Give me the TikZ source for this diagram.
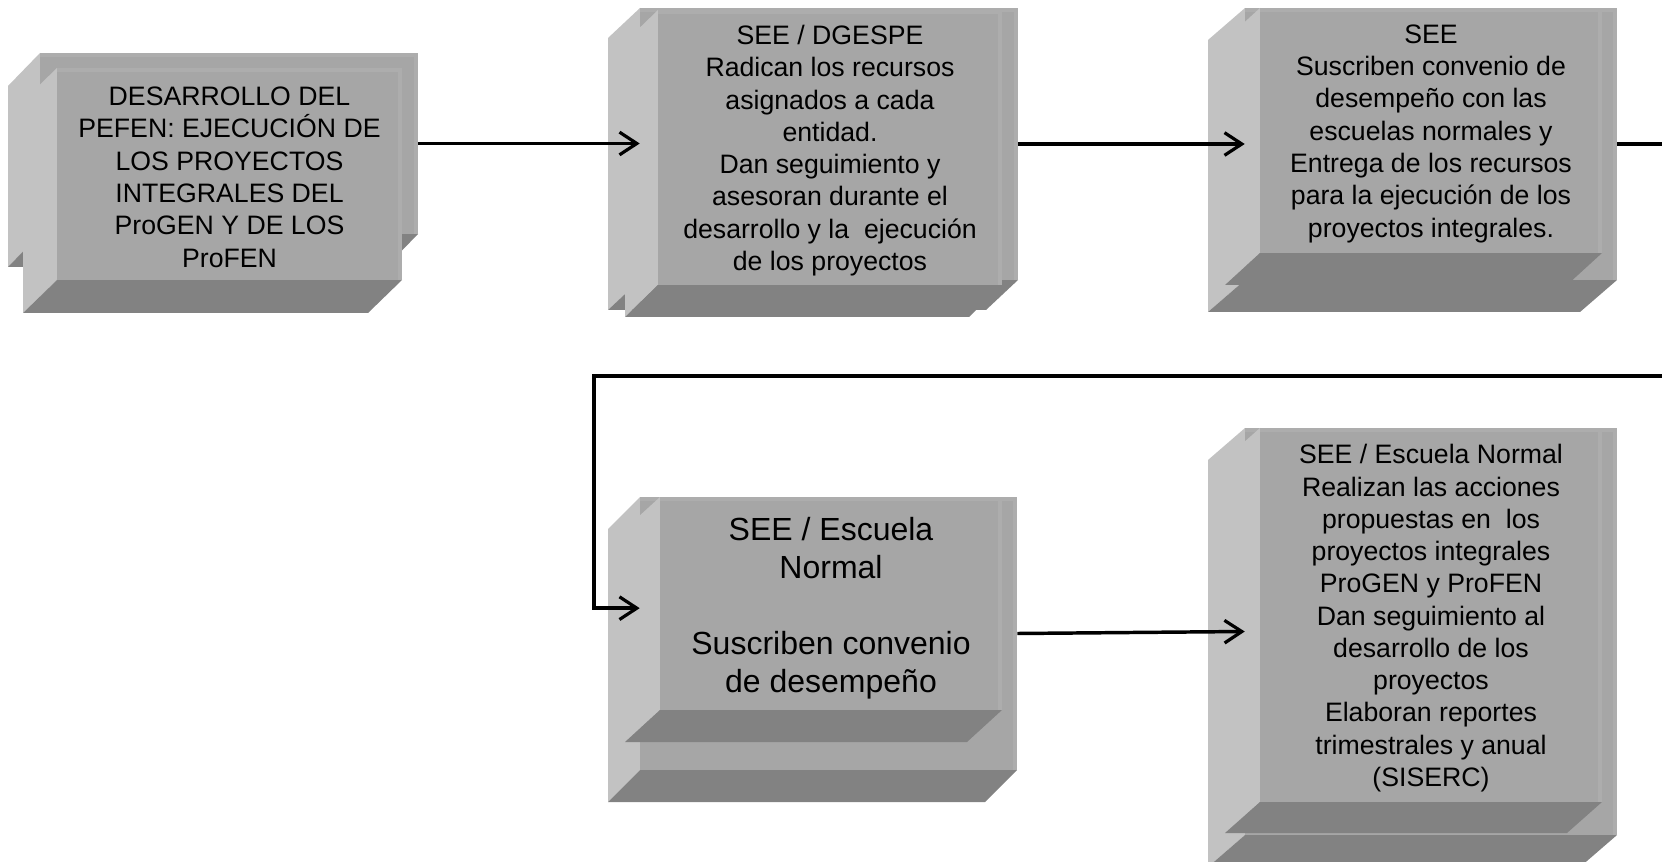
\documentclass[tikz,border=0pt]{standalone}
\usepackage{fontspec}
\setmainfont{Liberation Sans}
\usetikzlibrary{arrows.meta}
\definecolor{facegray}{HTML}{A6A6A6}
\definecolor{sidegray}{HTML}{C2C2C2}
\definecolor{botgray}{HTML}{828282}
\definecolor{rimgray}{HTML}{ADADAD}
% #1 name, #2 x0, #3 y0, #4 x1, #5 y1 (front face), #6 dx, #7 dy (depth), #8 node options, #9 text
\newcommand\cubebox[9]{%
  \fill[sidegray] (#2,#3) -- (#2,#5) -- ({#2-#6},{#5+#7}) -- ({#2-#6},{#3+#7}) -- cycle;
  \fill[botgray] (#2,#5) -- (#4,#5) -- ({#4-#6},{#5+#7}) -- ({#2-#6},{#5+#7}) -- cycle;
  \fill[rimgray] (#2,#3) rectangle (#4,#5);
  \fill[facegray] (#2,{#3+4}) rectangle ({#4-4},#5);
  \node[facenode, minimum width={(#4-#2)*0.75pt}, minimum height={(#5-#3)*0.75pt}, #8]
    (#1) at ({(#2+#4)/2},{(#3+#5)/2}) {#9};
}
\tikzset{
  facenode/.style={inner sep=0pt, align=center, text=black, font=\fontsize{20}{24.2}\selectfont},
  txtdown/.style={yshift=-2.4pt},
  bigtext/.style={font=\fontsize{24}{28.4}\selectfont, yshift=-3.6pt},
  conn/.style={line width=2.6pt, -{Straight Barb[length=13pt,width=17pt,line width=2.4pt]}},
}
\begin{document}
\begin{tikzpicture}[x=0.75pt, y=-0.75pt]
\useasboundingbox (0,0) rectangle (1662,862);
\clip (0,0) rectangle (1662,862);
\fill[white] (0,0) rectangle (1662,862);

% Box 1
\cubebox{b1}{40}{53}{418}{234}{32}{33}{}{}
\cubebox{f1}{57}{68}{402}{280}{34}{33}{txtdown}{DESARROLLO DEL\\PEFEN: EJECUCIÓN DE\\LOS PROYECTOS\\INTEGRALES DEL\\ProGEN Y DE LOS\\ProFEN}

% Box 2
\cubebox{b2}{640}{8}{1018}{280}{32}{30}{}{}
\cubebox{f2}{658}{10}{1002}{285}{33}{32}{txtdown}{SEE / DGESPE\\Radican los recursos\\asignados a cada\\entidad.\\Dan seguimiento y\\asesoran durante el\\desarrollo y la \ ejecución\\de los proyectos}

% Box 3
\cubebox{b3}{1245}{8}{1617}{280}{37}{32}{}{}
\cubebox{f3}{1260}{8}{1602}{253}{35}{32}{txtdown}{SEE\\Suscriben convenio de\\desempeño con las\\escuelas normales y\\Entrega de los recursos\\para la ejecución de los\\proyectos integrales.}

% Box 4
\cubebox{b4}{640}{497}{1017}{770}{32}{32}{}{}
\cubebox{f4}{660}{497}{1002}{710}{35}{32}{bigtext}{SEE / Escuela\\Normal\\[28.4pt]Suscriben convenio\\de desempeño}

% Box 5
\cubebox{b5}{1245}{428}{1617}{835}{37}{32}{}{}
\cubebox{f5}{1260}{428}{1602}{802}{35}{31}{txtdown}{SEE / Escuela Normal\\Realizan las acciones\\propuestas en \ los\\proyectos integrales\\ProGEN y ProFEN\\Dan seguimiento al\\desarrollo de los\\proyectos\\Elaboran reportes\\trimestrales y anual\\(SISERC)}

% Connectors
\draw[conn] (b1.east) -- (b2.west |- b1.east);
\draw[conn] (b2.east) -- (b3.west |- b2.east);
\coordinate (turn) at (594,376);
\draw[conn] (b3.east) -- ++(80,0) |- (turn) |- ([yshift=19pt]b4.west);
\draw[conn] (b4.east) -- (b5.west);
\end{tikzpicture}
\end{document}
